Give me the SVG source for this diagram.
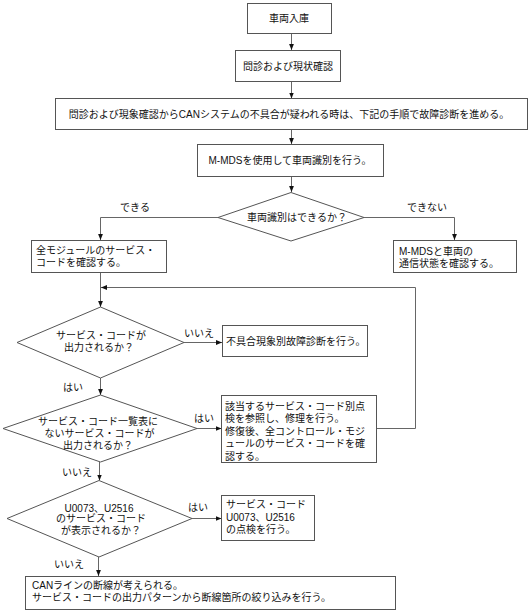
<svg xmlns="http://www.w3.org/2000/svg" width="530" height="611" viewBox="0 0 530 611">
<defs>
<style>
text{font-family:"Liberation Sans","Noto Sans CJK JP",sans-serif;font-size:10px;fill:#111}
.c{text-anchor:middle}
.box{fill:#fff;stroke:#555;stroke-width:1}
.dia{fill:#fff;stroke:#555;stroke-width:1}
.ln{fill:none;stroke:#666;stroke-width:1}
</style>
<marker id="ah" viewBox="0 0 6 6" refX="6" refY="3" markerWidth="6" markerHeight="6" markerUnits="userSpaceOnUse" orient="auto">
<path d="M0,0.6 L6,3 L0,5.4 Z" fill="#111"/>
</marker>
</defs>
<rect width="530" height="611" fill="#fff"/>
<g id="connectors">
<path class="ln" d="M291.5,34 V50" marker-end="url(#ah)"/>
<path class="ln" d="M291.5,82 V98.5" marker-end="url(#ah)"/>
<path class="ln" d="M291.5,129.5 V144" marker-end="url(#ah)"/>
<path class="ln" d="M291.5,176.5 V192" marker-end="url(#ah)"/>
<path class="ln" d="M218,217.5 H100.5 V240" marker-end="url(#ah)"/>
<path class="ln" d="M364,217.5 H454.5 V240" marker-end="url(#ah)"/>
<path class="ln" d="M100.5,272.5 V307" marker-end="url(#ah)"/>
<path class="ln" d="M376.5,428.5 H415.5 V287.5 H101" marker-end="url(#ah)"/>
<path class="ln" d="M184,342.5 H222" marker-end="url(#ah)"/>
<path class="ln" d="M100.5,378 V395" marker-end="url(#ah)"/>
<path class="ln" d="M197,428.5 H221.5" marker-end="url(#ah)"/>
<path class="ln" d="M99.5,462 V480.5" marker-end="url(#ah)"/>
<path class="ln" d="M192,518.5 H221.5" marker-end="url(#ah)"/>
<path class="ln" d="M98.5,557 V576" marker-end="url(#ah)"/>
<text class="c" x="135" y="211">できる</text>
<text class="c" x="427" y="211">できない</text>
<text class="c" x="199" y="337">いいえ</text>
<text class="c" x="73" y="391">はい</text>
<text class="c" x="204" y="422">はい</text>
<text class="c" x="77" y="476">いいえ</text>
<text class="c" x="198" y="511">はい</text>
<text class="c" x="69" y="568">いいえ</text>
</g>
<g id="n1"><rect class="box" x="247.5" y="3.5" width="84" height="30"/><text class="c" x="289" y="22">車両入庫</text></g>
<g id="n2"><rect class="box" x="235.5" y="50.5" width="105" height="31"/><text class="c" x="288" y="69.5">問診および現状確認</text></g>
<g id="n3"><rect class="box" x="55.5" y="98.5" width="472" height="31"/><text class="c" x="289" y="118">問診および現象確認からCANシステムの不具合が疑われる時は、下記の手順で故障診断を進める。</text></g>
<g id="n4"><rect class="box" x="197.5" y="144.5" width="186" height="32"/><text class="c" x="290" y="164">M-MDSを使用して車両識別を行う。</text></g>
<g id="d1"><polygon class="dia" points="291,192.5 364,217.5 291,241 218,217.5"/><text class="c" x="297" y="221">車両識別はできるか？</text></g>
<g id="n5"><rect class="box" x="31.5" y="240.5" width="135" height="32"/><text x="36" y="254">全モジュールのサービス・</text><text x="36" y="266">コードを確認する。</text></g>
<g id="n6"><rect class="box" x="393.5" y="240.5" width="123" height="32"/><text x="399" y="255">M-MDSと車両の</text><text x="399" y="267">通信状態を確認する。</text></g>
<g id="d2"><polygon class="dia" points="100.5,307 184,342.5 100.5,378 17,342.5"/><text class="c" x="101" y="339">サービス・コードが</text><text class="c" x="99" y="351">出力されるか？</text></g>
<g id="n7"><rect class="box" x="222.5" y="325.5" width="145" height="31"/><text x="226" y="344.5">不具合現象別故障診断を行う。</text></g>
<g id="d3"><polygon class="dia" points="100.5,395 197,428.5 100.5,462 3,428.5"/><text class="c" x="98" y="424.5">サービス・コード一覧表に</text><text class="c" x="99.5" y="436.5">ないサービス・コードが</text><text class="c" x="98" y="448.5">出力されるか？</text></g>
<g id="n8"><rect class="box" x="221.5" y="395.5" width="155" height="67"/><text x="225" y="409.5">該当するサービス・コード別点</text><text x="225" y="422">検を参照し、修理を行う。</text><text x="225" y="434.5">修復後、全コントロール・モジ</text><text x="225" y="447">ュールのサービス・コードを確</text><text x="225" y="459.5">認する。</text></g>
<g id="d4"><polygon class="dia" points="99,480.5 192,518.5 99,557 7,518.5"/><text class="c" x="99" y="511.5">U0073、U2516</text><text class="c" x="101" y="522">のサービス・コード</text><text class="c" x="101" y="534">が表示されるか？</text></g>
<g id="n9"><rect class="box" x="221.5" y="495.5" width="93" height="45"/><text x="226" y="507.5">サービス・コード</text><text x="226" y="520.5">U0073、U2516</text><text x="226" y="533">の点検を行う。</text></g>
<g id="n10"><rect class="box" x="25.5" y="576.5" width="370" height="33"/><text x="32" y="589">CANラインの断線が考えられる。</text><text x="32" y="601">サービス・コードの出力パターンから断線箇所の絞り込みを行う。</text></g>
</svg>
